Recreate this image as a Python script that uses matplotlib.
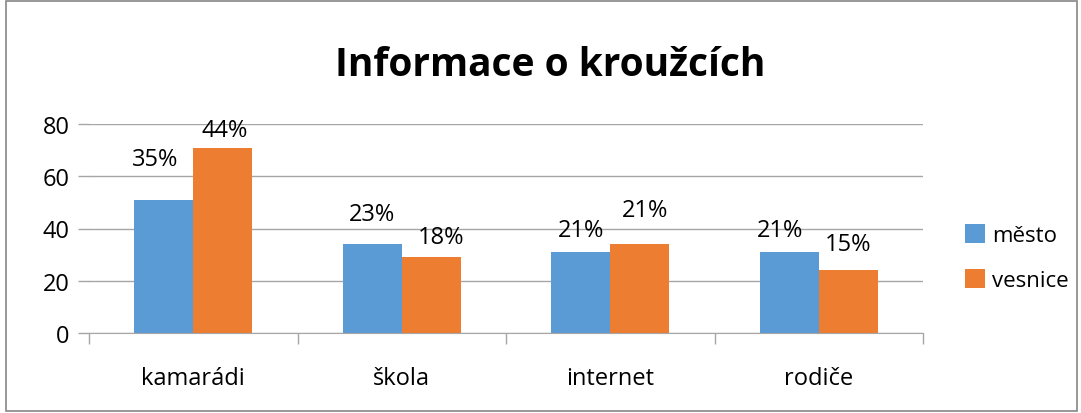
import numpy as np
import matplotlib.pyplot as plt
from matplotlib.patches import Rectangle

categories = ['kamarádi', 'škola', 'internet', 'rodiče']
mesto = [51, 34, 31, 31]
vesnice = [71, 29, 34, 24]
mesto_pct = ['35%', '23%', '21%', '21%']
vesnice_pct = ['44%', '18%', '21%', '15%']

# label offsets (dx in category units, dy in value units), labels were moved by hand in the original
mesto_off = [(-0.04, 11), (0, 7), (0, 4), (-0.045, 4)]
vesnice_off = [(0.01, 2.3), (0.045, 3), (0.025, 8.4), (0, 5.4)]

plt.rcParams['font.family'] = ['Open Sans', 'DejaVu Sans']

fig = plt.figure(figsize=(10.81, 4.14), dpi=100)
fig.patches.append(Rectangle((0.006, 0.005), 0.99, 0.99, transform=fig.transFigure,
                             fill=False, edgecolor='#868686', linewidth=1.2))
ax = fig.add_axes([89 / 1081, 1 - 334 / 414, (923 - 89) / 1081, (334 - 125) / 414])

x = np.arange(len(categories))
w = 0.283
b1 = ax.bar(x - w / 2, mesto, w, color='#5B9BD5', label='město', zorder=3)
b2 = ax.bar(x + w / 2, vesnice, w, color='#ED7D31', label='vesnice', zorder=3)

for bars, labels, offs in [(b1, mesto_pct, mesto_off), (b2, vesnice_pct, vesnice_off)]:
    for bar, lab, (dx, dy) in zip(bars, labels, offs):
        ax.text(bar.get_x() + bar.get_width() / 2 + dx, bar.get_height() + dy, lab,
                ha='center', va='bottom', fontsize=17, color='black')

ax.set_xlim(-0.5, 3.5)
ax.set_ylim(0, 80)
ax.set_yticks([0, 20, 40, 60, 80])
ax.yaxis.grid(True, color='#A6A6A6', linewidth=1, zorder=0)
ax.set_xticks(x)
ax.set_xticklabels(categories)
ax.set_xticks([-0.5, 0.5, 1.5, 2.5, 3.5], minor=True)
ax.tick_params(axis='x', which='major', length=0, pad=24, labelsize=17)
ax.tick_params(axis='x', which='minor', length=8, color='#A6A6A6', width=1)
ax.tick_params(axis='y', length=8, color='#A6A6A6', width=1, labelsize=17, pad=6)
for s in ['top', 'right', 'left']:
    ax.spines[s].set_visible(False)
ax.spines['bottom'].set_color('#A6A6A6')
ax.spines['bottom'].set_zorder(4)

fig.text(550 / 1081, 1 - 66 / 414, 'Informace o kroužcích', ha='center', va='center',
         fontsize=28, fontweight='bold')

ax.legend(loc='center left', bbox_to_anchor=(1.05, 0.36), frameon=False, fontsize=16,
          handlelength=0.9, handleheight=0.9, labelspacing=1.05, handletextpad=0.35,
          borderaxespad=0, borderpad=0)

fig.savefig('out.png', dpi=100)
